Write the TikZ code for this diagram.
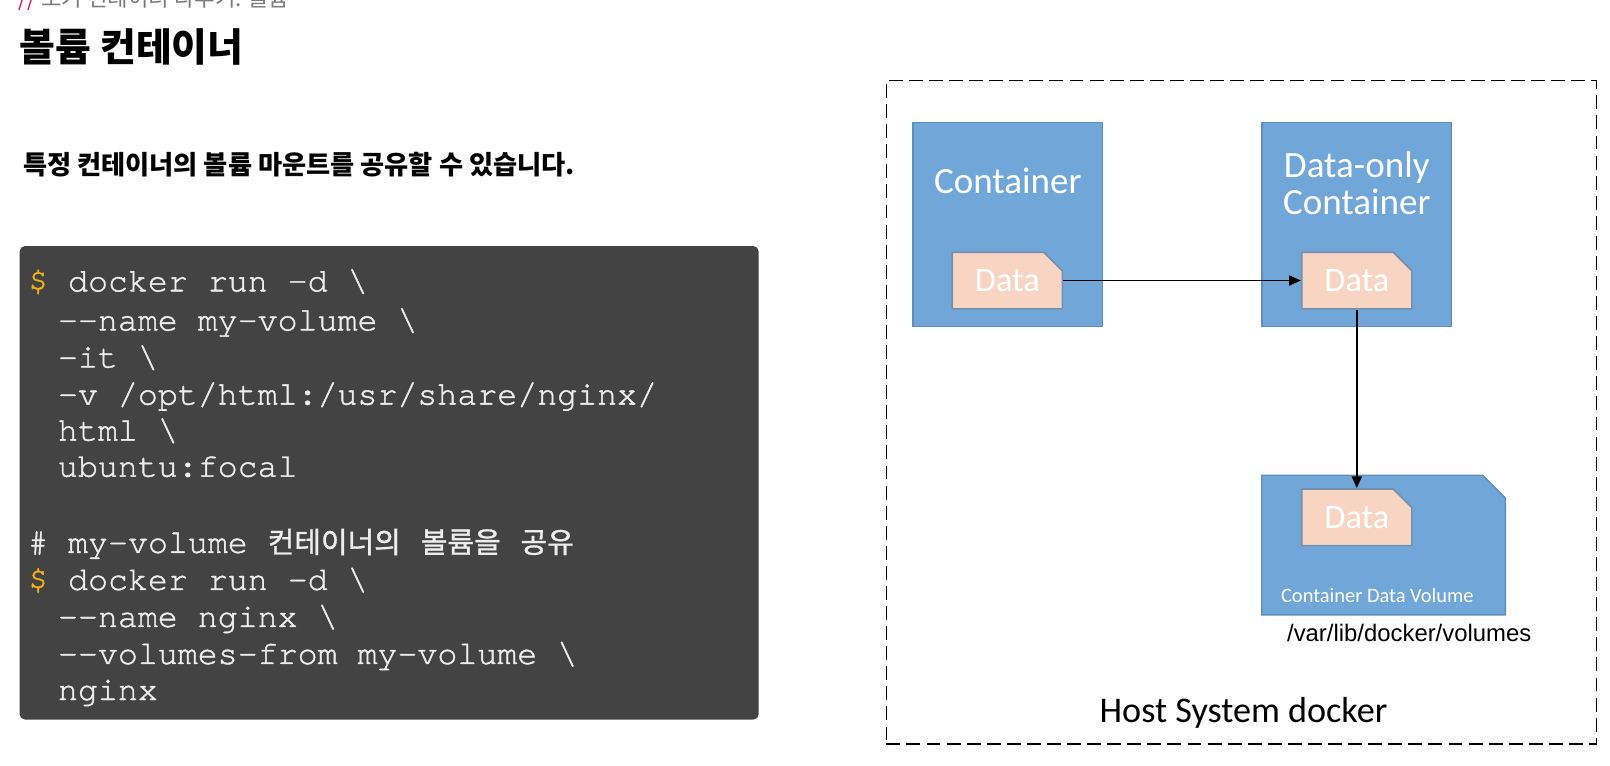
\documentclass[tikz,border=0pt]{standalone}
\usepackage{fontspec}
\setmainfont{Carlito}
\newfontfamily\kofont{Noto Sans CJK KR}
\newfontfamily\kocode{Noto Sans CJK KR}[FakeBold=1.2]
\newfontfamily\codefont{TeX Gyre Cursor}[FakeBold=1.3]
\newfontfamily\pathfont{Liberation Sans}
\usetikzlibrary{arrows.meta}
\usetikzlibrary{shapes.misc}
\definecolor{boxblue}{HTML}{71A7D8}
\definecolor{boxedge}{HTML}{5E8EBE}
\definecolor{datapeach}{HTML}{F8D5C3}
\definecolor{dataedge}{HTML}{7590AC}
\definecolor{termgray}{HTML}{434343}
\definecolor{termtext}{HTML}{EDEDED}
\definecolor{promptgold}{HTML}{F0B418}
\definecolor{hashred}{HTML}{D4204C}
\definecolor{crumbgray}{HTML}{7A7A7A}

\begin{document}
\begin{tikzpicture}[x=0.02cm,y=-0.02cm,
    codeline/.style={anchor=base west,inner sep=0pt,text=termtext,font=\codefont\fontsize{18.4}{20}\selectfont},
    cont/.style={draw=boxedge,line width=0.8pt,fill=boxblue,minimum width=3.68cm,minimum height=3.96cm,inner sep=0pt},
    volshape/.style={draw=boxedge,line width=0.8pt,fill=boxblue},
    data/.style={chamfered rectangle,chamfered rectangle corners=north east,chamfered rectangle xsep=0.18cm,chamfered rectangle ysep=0.18cm,draw=dataedge,line width=0.9pt,fill=datapeach,minimum width=2.14cm,minimum height=1.10cm,inner sep=0pt,text=white,font=\fontsize{19}{20}\selectfont},
    ctitle/.style={text=white,inner sep=0pt,font=\fontsize{20.5}{20}\selectfont},
    flow/.style={-{Triangle[length=6.5pt,width=5.5pt]},line width=1pt}]
  \useasboundingbox (0,0) rectangle (1564,744);
  \fill[white] (0,0) rectangle (1564,744);

  % slide heading
  \node[anchor=base west,inner sep=0pt,text=crumbgray,font=\kofont\fontsize{12.3}{14}\selectfont] (crumb) at (18,6.5) {{\color{hashred}//} 도커 컨테이너 다루기: 볼륨};
  \node[anchor=west,inner sep=0pt,font=\kofont\bfseries\fontsize{21.5}{24}\selectfont] (title) at (19,46) {볼륨 컨테이너};
  \node[anchor=west,inner sep=0pt,font=\kofont\bfseries\fontsize{14.5}{16}\selectfont] (lead) at (22,160) {특정 컨테이너의 볼륨 마운트를 공유할 수 있습니다.};

  % terminal
  \fill[termgray,rounded corners=3pt] (19,239) rectangle (737,699);
  \node[codeline] (c1) at (27,283) {{\color{promptgold}\$} docker run -d \textbackslash};
  \node[codeline] (c2) at (56,321) {-{}-name my-volume \textbackslash};
  \node[codeline] (c3) at (56,357) {-it \textbackslash};
  \node[codeline] (c4) at (56,393) {-v /opt/html:/usr/share/nginx/};
  \node[codeline] (c5) at (56,428) {html \textbackslash};
  \node[codeline] (c6) at (56,463) {ubuntu:focal};
  \node[codeline] (c7) at (27,537) {\# my-volume {\kocode\fontsize{16}{18}\selectfont 컨테이너의} {\kocode\fontsize{16}{18}\selectfont 볼륨을} {\kocode\fontsize{16}{18}\selectfont 공유}};
  \node[codeline] (c8) at (27,573) {{\color{promptgold}\$} docker run -d \textbackslash};
  \node[codeline] (c9) at (56,609) {-{}-name nginx \textbackslash};
  \node[codeline] (c10) at (56,645) {-{}-volumes-from my-volume \textbackslash};
  \node[codeline] (c11) at (56,680) {nginx};

  % host
  \node[draw,dashed,dash pattern=on 7.7pt off 3.4pt,line width=0.95pt,minimum width=13.8cm,minimum height=12.9cm,inner sep=0pt] (host) at (1206,400.5) {};
  \node[cont] (cont) at (979,218) {};
  \node[cont] (donly) at (1318,218) {};
  \node[minimum width=4.72cm,minimum height=2.70cm,inner sep=0pt] (vol) at (1344,529.5) {};
  \draw[volshape] (vol.south west) -- (vol.north west) -- ([xshift=-0.44cm]vol.north east) -- ([yshift=-0.44cm]vol.north east) -- (vol.south east) -- cycle;
  \node[ctitle] (conttitle) at (979,176) {Container};
  \node[ctitle,align=center] (donlytitle) at (1318,178) {Data-only\\Container};
  \node[data] (d1) at (978.5,272.5) {Data};
  \node[data] (d2) at (1318,272.5) {Data};
  \node[data] (d3) at (1318,502.5) {Data};
  \node[text=white,inner sep=0pt,font=\fontsize{11.3}{12}\selectfont] (vollabel) at (1338,578) {Container Data Volume};
  \node[anchor=west,inner sep=0pt,font=\pathfont\fontsize{13.2}{14}\selectfont] (volpath) at (1250,614.5) {/var/lib/docker/volumes};
  \node[inner sep=0pt,font=\fontsize{20}{22}\selectfont] (hostlabel) at (1208,692) {Host System docker};

  \draw[flow] (d1.east) -- (d2.west);
  \draw[flow] (d2.south) -- (d3.north);
\end{tikzpicture}
\end{document}
